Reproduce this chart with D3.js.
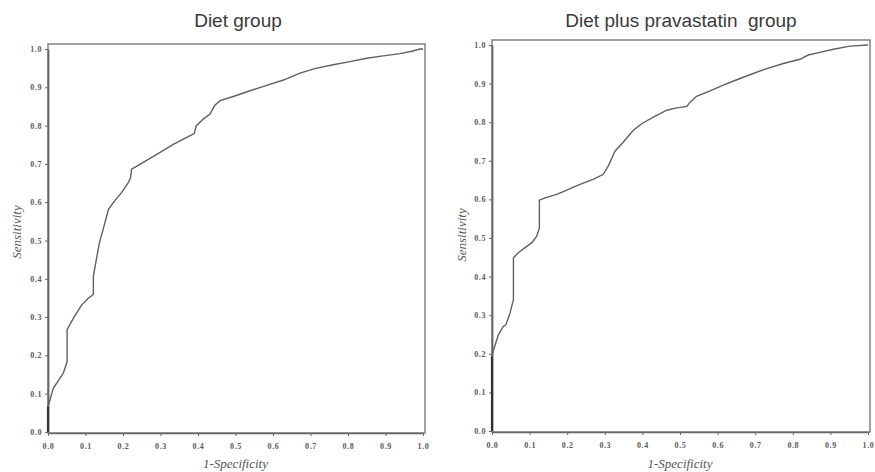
<!DOCTYPE html>
<html>
<head>
<meta charset="utf-8">
<script src="https://cdn.jsdelivr.net/npm/d3@7"></script>
<style>
  body { margin: 0; background: #fff; }
  .tick text { font-family: "Liberation Serif", serif; font-weight: bold; font-size: 8px; fill: #5a5a5a; letter-spacing: 0.6px; }
  .axis path, .axis line { stroke: #666; }
</style>
</head>
<body>
<svg id="chart" width="875" height="472"></svg>
<script>
// ROC curve for the diet group
var dietX = [0, 0, 0.014, 0.041, 0.051, 0.051, 0.068, 0.09, 0.108, 0.121, 0.121, 0.137, 0.147, 0.161, 0.174, 0.196, 0.214, 0.220, 0.223, 0.245, 0.29, 0.334, 0.37, 0.39, 0.395, 0.414, 0.432, 0.445, 0.459, 0.494, 0.539, 0.583, 0.628, 0.672, 0.716, 0.761, 0.805, 0.85, 0.894, 0.939, 0.97, 0.992, 1.0];
var dietY = [0, 0.066, 0.114, 0.154, 0.184, 0.267, 0.298, 0.332, 0.35, 0.359, 0.407, 0.494, 0.529, 0.581, 0.599, 0.625, 0.651, 0.664, 0.686, 0.699, 0.725, 0.751, 0.769, 0.779, 0.799, 0.817, 0.83, 0.853, 0.865, 0.876, 0.891, 0.905, 0.919, 0.937, 0.95, 0.959, 0.967, 0.976, 0.982, 0.988, 0.994, 1.0, 1.0];

// ROC curve for the diet plus pravastatin group
var pravX = [0, 0, 0.004, 0.017, 0.03, 0.037, 0.048, 0.057, 0.057, 0.07, 0.088, 0.106, 0.119, 0.126, 0.126, 0.141, 0.172, 0.199, 0.234, 0.269, 0.296, 0.309, 0.327, 0.349, 0.376, 0.398, 0.429, 0.465, 0.491, 0.518, 0.527, 0.544, 0.58, 0.615, 0.651, 0.686, 0.731, 0.775, 0.819, 0.841, 0.872, 0.908, 0.952, 1.0];
var pravY = [0, 0.193, 0.21, 0.249, 0.271, 0.275, 0.306, 0.34, 0.449, 0.462, 0.475, 0.488, 0.505, 0.526, 0.598, 0.604, 0.613, 0.624, 0.639, 0.652, 0.665, 0.686, 0.725, 0.748, 0.779, 0.796, 0.813, 0.831, 0.837, 0.841, 0.852, 0.867, 0.881, 0.896, 0.91, 0.923, 0.939, 0.952, 0.963, 0.974, 0.981, 0.989, 0.997, 1.0];

var ticks = [0, 0.1, 0.2, 0.3, 0.4, 0.5, 0.6, 0.7, 0.8, 0.9, 1.0];

var svg = d3.select("#chart");

function panel(opts) {
  var x = d3.scaleLinear().domain([0, 1]).range([opts.left, opts.right]);
  var y = d3.scaleLinear().domain([0, 1]).range([opts.bottom, opts.top]);

  var g = svg.append("g");

  // frame
  g.append("rect")
    .attr("x", x(0))
    .attr("y", y(1) - 5)
    .attr("width", x(1) - x(0) + 2)
    .attr("height", y(0) - y(1) + 6)
    .attr("fill", "none")
    .attr("stroke", "#7a7a7a")
    .attr("stroke-width", 1.4);

  g.append("g")
    .attr("class", "axis")
    .attr("transform", "translate(0," + (y(0) + 1) + ")")
    .call(d3.axisBottom(x).tickValues(ticks).tickSize(3).tickSizeOuter(0).tickPadding(7).tickFormat(d3.format(".1f")))
    .call(function(a) { a.select(".domain").attr("stroke-width", 1.4); });

  g.append("g")
    .attr("class", "axis")
    .attr("transform", "translate(" + x(0) + ",0)")
    .call(d3.axisLeft(y).tickValues(ticks).tickSize(3).tickSizeOuter(0).tickPadding(3).tickFormat(d3.format(".1f")))
    .call(function(a) { a.select(".domain").attr("stroke-width", 1.8).attr("stroke", "#555"); });

  var line = d3.line()
    .x(function(d) { return x(d[0]); })
    .y(function(d) { return y(d[1]); });

  g.append("path")
    .datum(d3.zip(opts.xs, opts.ys))
    .attr("d", line)
    .attr("fill", "none")
    .attr("stroke", "#606060")
    .attr("stroke-width", 1.4);

  // thick start along the y axis
  g.append("path")
    .datum(d3.zip(opts.xs, opts.ys).slice(0, 2))
    .attr("d", line)
    .attr("stroke", "#333")
    .attr("stroke-width", 2.2);

  g.append("text")
    .attr("x", opts.titleX)
    .attr("y", 27)
    .attr("text-anchor", "middle")
    .style("font-family", "Liberation Sans, Arial, sans-serif")
    .style("font-size", "19px")
    .style("fill", "#3a3a3a")
    .style("white-space", "pre")
    .text(opts.title);

  g.append("text")
    .attr("x", (x(0) + x(1)) / 2)
    .attr("y", 468)
    .attr("text-anchor", "middle")
    .style("font-family", "Liberation Serif, serif")
    .style("font-style", "italic")
    .style("font-size", "13px")
    .style("fill", "#555")
    .text("1-Specificity");

  g.append("text")
    .attr("transform", "translate(" + opts.ylabX + "," + opts.ylabY + ") rotate(-90)")
    .attr("text-anchor", "middle")
    .style("font-family", "Liberation Serif, serif")
    .style("font-style", "italic")
    .style("font-size", "13px")
    .style("fill", "#555")
    .text("Sensitivity");
}

panel({ left: 48, right: 423, top: 49, bottom: 432, xs: dietX, ys: dietY,
        title: "Diet group", titleX: 238, ylabX: 21, ylabY: 232 });
panel({ left: 492, right: 868, top: 45, bottom: 431, xs: pravX, ys: pravY,
        title: "Diet plus pravastatin  group", titleX: 681, ylabX: 466, ylabY: 235 });
</script>
</body>
</html>
